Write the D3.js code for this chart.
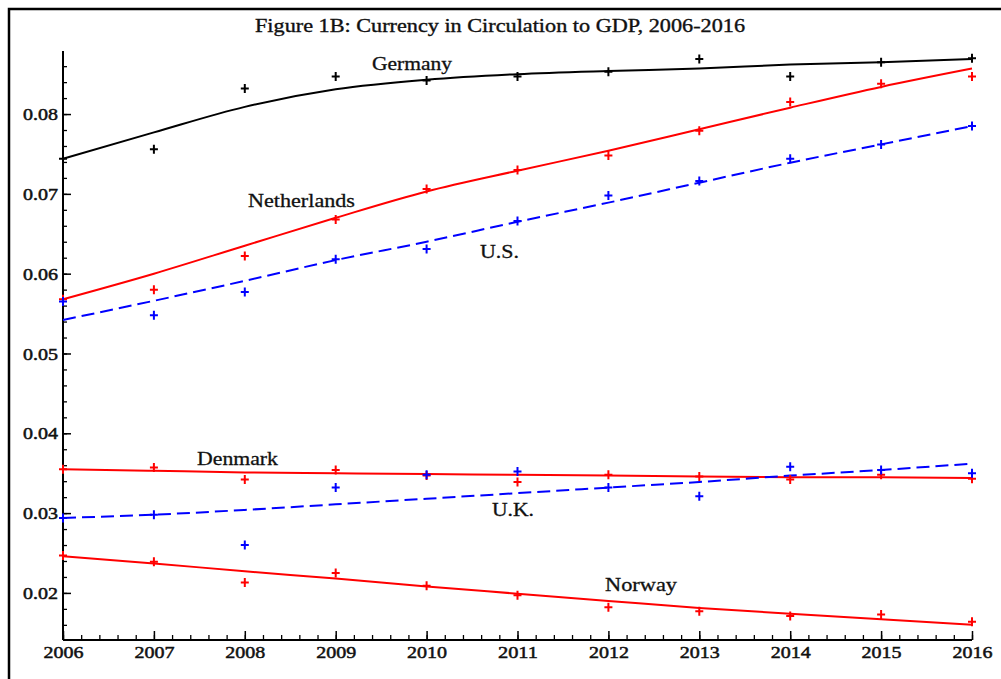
<!DOCTYPE html>
<html><head><meta charset="utf-8">
<script src="https://cdn.jsdelivr.net/npm/d3@7/dist/d3.min.js"></script>
<style>body{margin:0;background:#fff;} text{font-family:"Liberation Serif","Times New Roman",serif;}</style>
</head><body>
<svg id="c" width="1001" height="679"></svg>
<script>
const years = [2006,2007,2008,2009,2010,2011,2012,2013,2014,2015,2016];
// observed points
const germanyPts     = [0.0744,0.0756,0.0832,0.0847,0.0842,0.0847,0.0853,0.0869,0.0847,0.0865,0.0870];
const netherlandsPts = [0.0568,0.0580,0.0622,0.0668,0.0706,0.0730,0.0748,0.0779,0.0815,0.0838,0.0847];
const usPts          = [0.0565,0.0548,0.0577,0.0618,0.0631,0.0666,0.0698,0.0716,0.0744,0.0762,0.0785];
const denmarkPts     = [0.0355,0.0357,0.0342,0.0354,0.0347,0.0339,0.0348,0.0346,0.0342,0.0348,0.0343];
const ukPts          = [0.0294,0.0298,0.0260,0.0332,0.0348,0.0352,0.0332,0.0321,0.0358,0.0354,0.0350];
const norwayPts      = [0.0247,0.0239,0.0213,0.0225,0.0209,0.0197,0.0182,0.0177,0.0171,0.0173,0.0164];
// fitted trend values
const germanyFit     = [0.0744,0.0777,0.0809,0.0831,0.0843,0.0850,0.0854,0.0857,0.0862,0.0865,0.0869];
const netherlandsFit = [0.0568,0.0600,0.0635,0.0670,0.0703,0.0729,0.0754,0.0781,0.0808,0.0834,0.0857];
const usFit          = [0.0542,0.0566,0.0591,0.0617,0.0640,0.0665,0.0689,0.0714,0.0739,0.0762,0.0785];
const denmarkFit     = [0.0355,0.0353,0.0351,0.0350,0.0349,0.0348,0.0347,0.0346,0.0345,0.0345,0.0344];
const ukFit          = [0.0294,0.0298,0.0304,0.0311,0.0318,0.0325,0.0332,0.0339,0.0347,0.0354,0.0362];
const norwayFit      = [0.0246,0.0237,0.0227,0.0218,0.0208,0.0199,0.0190,0.0181,0.0174,0.0167,0.0160];
const yTickValues = [0.02,0.03,0.04,0.05,0.06,0.07,0.08];
const titleText = "Figure 1B: Currency in Circulation to GDP, 2006-2016";

const series = [
  {name:"Germany", pts:germanyPts, fit:germanyFit, color:"#000000", dash:null, lx:372, ly:70, lw:80},
  {name:"Netherlands", pts:netherlandsPts, fit:netherlandsFit, color:"#ff0000", dash:null, lx:248, ly:207, lw:107},
  {name:"U.S.", pts:usPts, fit:usFit, color:"#0000ff", dash:"13,6", lx:480, ly:258, lw:39},
  {name:"Denmark", pts:denmarkPts, fit:denmarkFit, color:"#ff0000", dash:null, lx:197, ly:465, lw:81},
  {name:"U.K.", pts:ukPts, fit:ukFit, color:"#0000ff", dash:"13,6", lx:492, ly:516, lw:42},
  {name:"Norway", pts:norwayPts, fit:norwayFit, color:"#ff0000", dash:null, lx:605, ly:591, lw:72}
];

const svg = d3.select("#c");
// frame
svg.append("path").attr("d","M9,679 V9 H1001").attr("fill","none").attr("stroke","#000").attr("stroke-width",2.5);

const x = d3.scaleLinear().domain([2006,2016]).range([63,972]);
const y = d3.scaleLinear().domain([0.0141,0.0879]).range([640,51]);

// title
svg.append("text").attr("x",500).attr("y",32).attr("text-anchor","middle")
  .attr("font-size",18).attr("textLength",490).attr("lengthAdjust","spacingAndGlyphs")
  .attr("fill","#111").attr("stroke","#111").attr("stroke-width",0.35).text(titleText);

// axes
const gy = svg.append("g").attr("transform","translate(63,0)");
gy.call(d3.axisRight(y).tickValues(d3.range(0.016,0.0879,0.002)).tickSize(4).tickFormat(""));
gy.call(g=>g.selectAll(".tick line").attr("stroke-width",1.3));
const gyMaj = svg.append("g").attr("transform","translate(63,0)");
gyMaj.call(d3.axisRight(y).tickValues(yTickValues).tickSize(8).tickFormat(d3.format(".2f")));
gyMaj.selectAll(".tick line").attr("stroke-width",1.5);
gyMaj.selectAll(".tick text").attr("x",-5).attr("text-anchor","end").attr("dy","0.33em")
  .attr("font-size",17).attr("fill","#111").attr("stroke","#111").attr("stroke-width",0.5)
  .attr("textLength",35).attr("lengthAdjust","spacingAndGlyphs")
  .style("font-family","'Liberation Serif',serif");
svg.selectAll(".domain").remove();
svg.append("line").attr("x1",63).attr("x2",63).attr("y1",y.range()[1]).attr("y2",640).attr("stroke","#000").attr("stroke-width",2);

const gx = svg.append("g").attr("transform","translate(0,640)");
gx.call(d3.axisTop(x).tickValues(d3.range(2006,2016.01,0.2)).tickSize(5).tickFormat(""));
gx.selectAll(".tick line").attr("stroke-width",1.3);
const gxMaj = svg.append("g").attr("transform","translate(0,640)");
gxMaj.call(d3.axisTop(x).tickValues(years).tickSize(9).tickFormat(d3.format("d")));
gxMaj.selectAll(".tick line").attr("stroke-width",1.5);
gxMaj.selectAll(".tick text").attr("y",18).attr("dy",0).attr("font-size",17).attr("fill","#111")
  .attr("stroke","#111").attr("stroke-width",0.5)
  .attr("textLength",40).attr("lengthAdjust","spacingAndGlyphs").style("font-family","'Liberation Serif',serif");
svg.selectAll(".domain").remove();
svg.append("line").attr("x1",63).attr("x2",972).attr("y1",640).attr("y2",640).attr("stroke","#000").attr("stroke-width",2);

// lines
const line = d3.line().x((d,i)=>x(years[i])).y(d=>y(d)).curve(d3.curveMonotoneX);
series.forEach(s=>{
  svg.append("path").attr("d",line(s.fit)).attr("fill","none").attr("stroke",s.color)
    .attr("stroke-width",2).attr("stroke-dasharray",s.dash);
});
// points
series.forEach(s=>{
  const g = svg.append("g");
  g.selectAll("path").data(s.pts).join("path")
    .attr("d",(d,i)=>{const cx=x(years[i]), cy=y(d); return `M${cx-4},${cy}H${cx+4}M${cx},${cy-4.5}V${cy+4.5}`;})
    .attr("stroke",s.color).attr("stroke-width",2).attr("fill","none");
});
// labels
series.forEach(s=>{
  svg.append("text").attr("x",s.lx).attr("y",s.ly).attr("font-size",19).attr("fill","#111")
    .attr("stroke","#111").attr("stroke-width",0.3)
    .attr("textLength",s.lw).attr("lengthAdjust","spacingAndGlyphs").text(s.name);
});
</script>
</body></html>
